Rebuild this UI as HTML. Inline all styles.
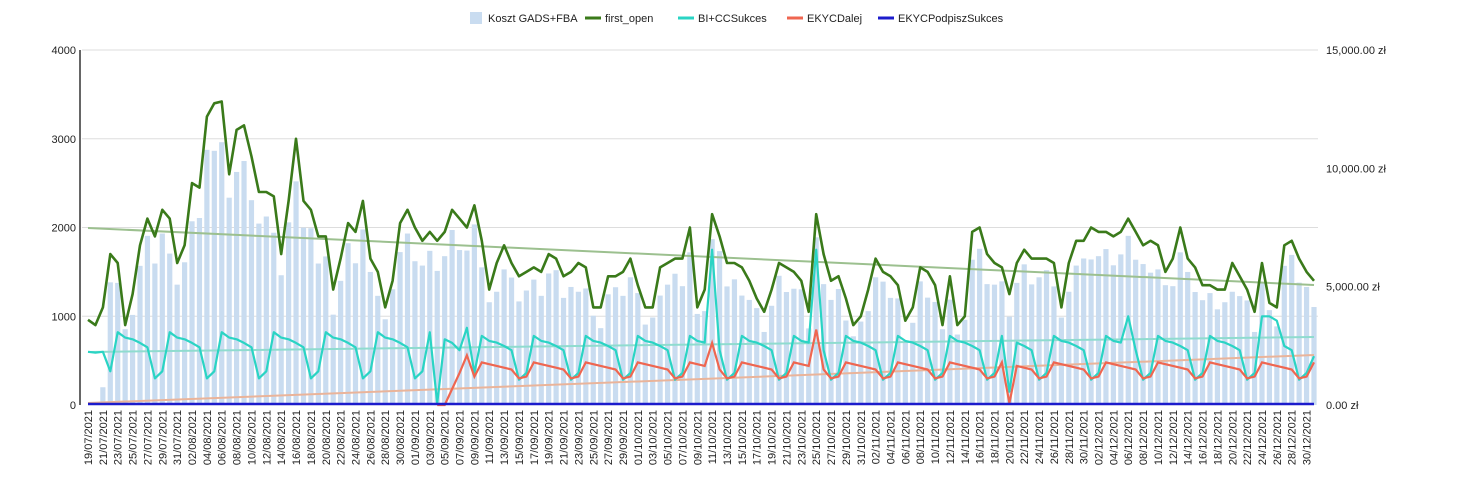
<!DOCTYPE html><html><head><meta charset="utf-8"><style>
body{margin:0;background:#fff;font-family:"Liberation Sans",sans-serif}
svg{display:block}
</style></head><body>
<svg id="c" width="1484" height="491" xmlns="http://www.w3.org/2000/svg" font-family="Liberation Sans, sans-serif"></svg>
<script>
var s=document.getElementById('c'),h='';
var X0=88,X1=1314,Y0=405,K=355/4000,N=166;
function y(v){return Y0-v*K}
function x(i){return X0+i*(X1-X0)/(N-1)}
var g=[960,900,1100,1700,1600,900,1250,1800,2100,1900,2200,2100,1600,1800,2500,2450,3250,3400,3420,2600,3100,3150,2800,2400,2400,2350,1700,2300,3000,2300,2200,1900,1900,1300,1650,2050,1950,2300,1650,1500,1100,1400,2050,2200,2000,1850,1950,1850,1950,2200,2100,2000,2250,1850,1300,1600,1800,1600,1450,1500,1550,1500,1700,1650,1450,1500,1600,1550,1100,1100,1450,1450,1500,1650,1350,1100,1100,1550,1600,1650,1650,2000,1100,1300];
var g2=[2150,1900,1600,1600,1550,1400,1200,1050,1300,1600,1550,1500,1400,1050,2150,1700,1400,1450,1200,900,1000,1300,1650,1500,1450,1350,950,1100,1550,1500,1350,900,1450,900,1000,1950,2000,1700,1600,1550,1250,1600,1750,1650,1650,1650,1600,1100,1600,1850,1850,2000,1950,1950,1900,1950,2100,1950,1800,1850,1800,1500,1650,2000,1650,1550,1350,1350,1300,1300,1600,1450,1300,1050,1600,1150,1100,1800,1850,1650,1500,1400];
g=g.slice(0,84).concat(g2);while(g.length<N)g.push(1400);g=g.slice(0,N);
var wk=[820,760,740,700,650,300,380];
var c=[],r=[],b=[];
for(var i=0;i<N;i++){var w=wk[(i+3)%7];var f=i<50?1:0.95;c.push(w*f);
 var rv=0;if(i>=48&&i<51)rv=(i-48)*180;else if(i>=51){var rw=[480,460,440,420,400,300,320];rv=rw[(i+3)%7];}r.push(rv);
 b.push(i<2?0:i==2?200:g[i]*0.86+((i*37)%11-5)*20);}
c[0]=600;c[1]=590;c[2]=600;c[47]=20;c[51]=870;r[51]=560;c[84]=1750;c[98]=1750;c[140]=1000;c[158]=1000;c[159]=1000;c[160]=950;c[165]=550;
r[84]=700;r[98]=850;r[124]=20;c[124]=150;
[4000,3000,2000,1000].forEach(function(v){h+='<line x1="82" x2="1318" y1="'+y(v)+'" y2="'+y(v)+'" stroke="#ddd" stroke-width="1"/>';});
[0,1000,2000,3000,4000].forEach(function(v){h+='<text x="76" y="'+(y(v)+4)+'" font-size="11" text-anchor="end" fill="#222">'+v+'</text>';});
["15,000.00 zł","10,000.00 zł","5,000.00 zł","0.00 zł"].forEach(function(t,k){h+='<text x="1326" y="'+(50+k*118.3+4)+'" font-size="11" fill="#222">'+t+'</text>';});
var bw=5.2;
for(var i=0;i<N;i++)if(b[i]>0)h+='<rect x="'+(x(i)-bw/2)+'" y="'+y(b[i])+'" width="'+bw+'" height="'+(b[i]*K)+'" fill="#c9dcf0"/>';
h+='<line x1="80" x2="80" y1="50" y2="405" stroke="#333" stroke-width="1.5"/>';
function pl(a,col,sw){var p='';for(var i=0;i<N;i++)p+=(i?'L':'M')+x(i).toFixed(1)+' '+y(a[i]).toFixed(1);h+='<path d="'+p+'" fill="none" stroke="'+col+'" stroke-width="'+sw+'" stroke-linejoin="round"/>';}
h+='<line x1="88" y1="228" x2="1314" y2="285" stroke="#9cc08f" stroke-width="2"/>';
h+='<line x1="88" y1="352" x2="1314" y2="337" stroke="#8fdccf" stroke-width="2"/>';
h+='<line x1="88" y1="403" x2="1314" y2="355" stroke="#eab49a" stroke-width="2"/>';
pl(c,'#2ad4c4',2.2);
var rr='';for(var i=47;i<N;i++)rr+=(i>47?'L':'M')+x(i).toFixed(1)+' '+y(r[i]).toFixed(1);h+='<path d="'+rr+'" fill="none" stroke="#ef6650" stroke-width="2.2"/>';
pl(g,'#3a7a1a',2.6);
h+='<line x1="88" x2="1314" y1="404" y2="404" stroke="#1c1ccc" stroke-width="2.5"/>';
var d=new Date(2021,6,19);
for(var i=0;i<N;i+=2){var dd=new Date(d.getTime()+i*864e5+3600e3);var t=('0'+dd.getDate()).slice(-2)+'/'+('0'+(dd.getMonth()+1)).slice(-2)+'/2021';
 var xx=x(i)+4;h+='<text transform="translate('+xx+',410) rotate(-90)" font-size="11" text-anchor="end" fill="#222">'+t+'</text>';}
var L=[["Koszt GADS+FBA","#c9dcf0",1],["first_open","#3a7a1a",0],["BI+CCSukces","#2ad4c4",0],["EKYCDalej","#ef6650",0],["EKYCPodpiszSukces","#1c1ccc",0]];
var lx=[470,587,680,789,880];
L.forEach(function(l,k){var X=lx[k];if(l[2])h+='<rect x="'+X+'" y="12" width="12" height="12" fill="'+l[1]+'"/>';else h+='<line x1="'+(X-2)+'" x2="'+(X+14)+'" y1="18" y2="18" stroke="'+l[1]+'" stroke-width="3"/>';
h+='<text x="'+(X+18)+'" y="22" font-size="11" fill="#222">'+l[0]+'</text>';});
s.innerHTML=h;
</script>
</body></html>
